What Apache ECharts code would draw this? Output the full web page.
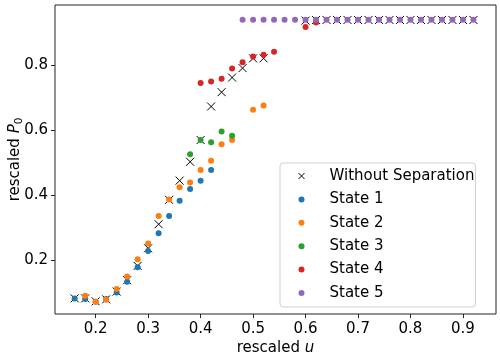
<!DOCTYPE html>
<html>
<head>
<meta charset="utf-8">
<script src="https://cdn.jsdelivr.net/npm/echarts@6/dist/echarts.min.js"></script>
<style>
	html, body { margin: 0; padding: 0; background: #fff; }
	#chart { width: 500px; height: 357px; }
</style>
</head>
<body>
<div id="chart"></div>
<script>
	// tick labels
	var xTicks = [0.2, 0.3, 0.4, 0.5, 0.6, 0.7, 0.8, 0.9];
	var yTicks = [0.2, 0.4, 0.6, 0.8];

	// Without Separation (x markers)
	var uWithout = [0.16, 0.18, 0.20, 0.22, 0.24, 0.26, 0.28, 0.30, 0.32, 0.34, 0.36, 0.38, 0.40, 0.42, 0.44, 0.46, 0.48, 0.50, 0.52,
		0.60, 0.62, 0.64, 0.66, 0.68, 0.70, 0.72, 0.74, 0.76, 0.78, 0.80, 0.82, 0.84, 0.86, 0.88, 0.90, 0.92];
	var pWithout = [0.082, 0.082, 0.073, 0.079, 0.103, 0.138, 0.182, 0.236, 0.31, 0.385, 0.444, 0.502, 0.569, 0.672, 0.716, 0.761, 0.79, 0.82, 0.82,
		0.936, 0.938, 0.938, 0.938, 0.938, 0.938, 0.938, 0.938, 0.938, 0.938, 0.938, 0.938, 0.938, 0.938, 0.938, 0.938, 0.938];

	// State 1
	var u1 = [0.16, 0.18, 0.20, 0.22, 0.24, 0.26, 0.28, 0.30, 0.32, 0.34, 0.36, 0.38, 0.40, 0.42];
	var p1 = [0.082, 0.080, 0.072, 0.080, 0.100, 0.133, 0.178, 0.228, 0.282, 0.335, 0.382, 0.418, 0.444, 0.477];

	// State 2
	var u2 = [0.18, 0.20, 0.22, 0.24, 0.26, 0.28, 0.30, 0.32, 0.34, 0.36, 0.38, 0.40, 0.42, 0.44, 0.46, 0.50, 0.52];
	var p2 = [0.090, 0.072, 0.078, 0.111, 0.149, 0.202, 0.251, 0.335, 0.386, 0.424, 0.438, 0.477, 0.505, 0.556, 0.569, 0.662, 0.675];

	// State 3
	var u3 = [0.38, 0.40, 0.42, 0.44, 0.46];
	var p3 = [0.525, 0.569, 0.562, 0.595, 0.582];

	// State 4
	var u4 = [0.40, 0.42, 0.44, 0.46, 0.48, 0.50, 0.52, 0.54, 0.60, 0.62];
	var p4 = [0.744, 0.749, 0.757, 0.789, 0.808, 0.826, 0.831, 0.840, 0.916, 0.930];

	// State 5
	var u5 = [0.48, 0.50, 0.52, 0.54, 0.56, 0.58, 0.60, 0.62, 0.64, 0.66, 0.68, 0.70, 0.72, 0.74, 0.76, 0.78, 0.80, 0.82, 0.84, 0.86, 0.88, 0.90, 0.92];
	var p5 = [0.939, 0.939, 0.939, 0.939, 0.939, 0.939, 0.939, 0.939, 0.939, 0.939, 0.939, 0.939, 0.939, 0.939, 0.939, 0.939, 0.939, 0.939, 0.939, 0.939, 0.939, 0.939, 0.939];

	function zip(xs, ys){
		return xs.map(function(x, i){ return [x, ys[i]]; });
	}

	var FONT = 'DejaVu Sans';
	var FS = 15;
	var crossPath = 'path://M0,0L10,10M10,0L0,10';

	var dotSeries = function(name, color, xs, ys){
		return {
			name: name,
			type: 'scatter',
			symbol: 'circle',
			symbolSize: 6,
			itemStyle: { color: color, opacity: 1 },
			data: zip(xs, ys)
		};
	};

	var option = {
		animation: false,
		backgroundColor: '#fff',
		textStyle: { fontFamily: FONT },
		grid: {
			left: 55, right: 4, top: 5, bottom: 43,
			containLabel: false,
			outerBoundsMode: 'none',
			show: true,
			borderColor: '#222',
			borderWidth: 1,
			backgroundColor: 'transparent'
		},
		xAxis: {
			type: 'value',
			min: 0.1225,
			max: 0.963,
			name: 'rescaled {i|u}',
			nameLocation: 'middle',
			nameGap: 27,
			nameMoveOverlap: false,
			nameTextStyle: {
				fontFamily: FONT, fontSize: FS, color: '#000',
				rich: { i: { fontFamily: FONT, fontSize: FS, fontStyle: 'italic', color: '#000' } }
			},
			axisLine: { show: false },
			splitLine: { show: false },
			axisTick: { show: true, inside: false, length: 4, lineStyle: { color: '#222' }, customValues: xTicks },
			axisLabel: {
				customValues: xTicks,
				margin: 8,
				fontFamily: FONT, fontSize: FS, color: '#000',
				formatter: function(v){ return v.toFixed(1); }
			}
		},
		yAxis: {
			type: 'value',
			min: 0.034,
			max: 0.984,
			name: 'rescaled {i|P}{s|0}',
			nameLocation: 'middle',
			nameRotate: 90,
			nameGap: 40,
			nameMoveOverlap: false,
			nameTextStyle: {
				fontFamily: FONT, fontSize: FS, color: '#000', lineHeight: 20, verticalAlign: 'middle',
				rich: {
					i: { fontFamily: FONT, fontSize: FS, fontStyle: 'italic', color: '#000', lineHeight: 20 },
					s: { fontFamily: FONT, fontSize: 10.5, color: '#000', lineHeight: 10, verticalAlign: 'bottom' }
				}
			},
			axisLine: { show: false },
			splitLine: { show: false },
			axisTick: { show: true, inside: false, length: 4, lineStyle: { color: '#222' }, customValues: yTicks },
			axisLabel: {
				customValues: yTicks,
				margin: 7,
				fontFamily: FONT, fontSize: FS, color: '#000',
				formatter: function(v){ return v.toFixed(1); }
			}
		},
		legend: {
			orient: 'vertical',
			left: 280,
			top: 163,
			// icon is drawn at the left of its box, text sits itemWidth/2 + 5 past its centre
			padding: [4.5, 1, 5.5, 18],
			itemWidth: 46,
			itemHeight: 6,
			itemGap: 6.4,
			backgroundColor: 'rgba(255,255,255,0.8)',
			borderColor: '#d0d0d0',
			borderWidth: 1,
			borderRadius: 3,
			textStyle: { fontFamily: FONT, fontSize: FS, color: '#000', lineHeight: 17 },
			data: [
				{ name: 'Without Separation', icon: crossPath, itemStyle: { color: 'transparent', borderColor: '#000', borderWidth: 1 } },
				{ name: 'State 1', icon: 'circle' },
				{ name: 'State 2', icon: 'circle' },
				{ name: 'State 3', icon: 'circle' },
				{ name: 'State 4', icon: 'circle' },
				{ name: 'State 5', icon: 'circle' }
			]
		},
		series: [
			{
				name: 'Without Separation',
				type: 'scatter',
				symbol: crossPath,
				symbolSize: 8,
				itemStyle: { color: 'transparent', borderColor: '#000', borderWidth: 1, opacity: 1 },
				data: zip(uWithout, pWithout)
			},
			dotSeries('State 1', '#1f77b4', u1, p1),
			dotSeries('State 2', '#ff7f0e', u2, p2),
			dotSeries('State 3', '#2ca02c', u3, p3),
			dotSeries('State 4', '#d62728', u4, p4),
			dotSeries('State 5', '#9467bd', u5, p5)
		]
	};

	var myChart = echarts.init(document.getElementById('chart'), null, { renderer: 'canvas' });
	myChart.setOption(option);
</script>
</body>
</html>
